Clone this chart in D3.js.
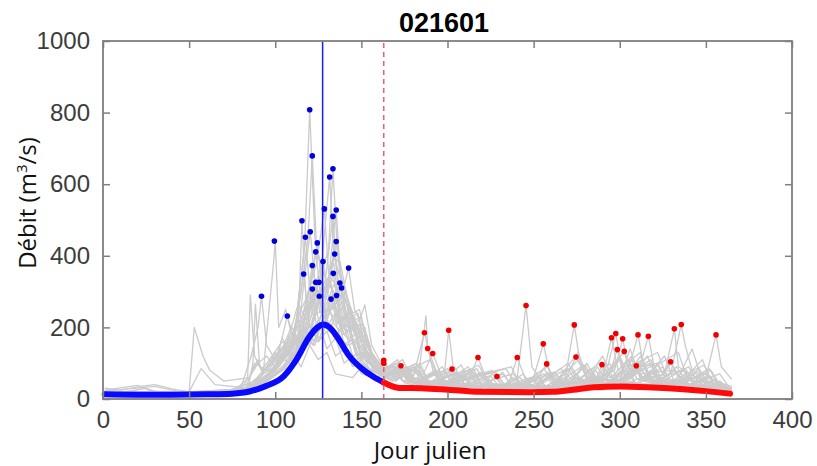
<!DOCTYPE html>
<html><head><meta charset="utf-8">
<script src="https://cdn.jsdelivr.net/npm/d3@7"></script>
<style>body{margin:0;background:#fff}svg{display:block}</style>
</head><body>
<script>
const title = "021601";
const xLabel = "Jour julien";
const xTicks = [0,50,100,150,200,250,300,350,400];
const yTicks = [0,200,400,600,800,1000];
const springEnd = 163;
const peakDay = 127.5;

// yearly hydrographs as flat [day, value, day, value, ...]
const y01=[1,15,30,12,60,14,80,30,86,120,90,200,92,287,95,150,100,110,104,170,108,140,115,90,120,150,125,110,130,130,135,70,145,60,150,90,155,75,160,60,163,108,170,50,178,80,182,40,190,30,205,60,210,30,220,20,235,45,240,25,260,18,275,60,280,30,290,25,305,70,310,35,320,30,335,55,340,28,350,22,365,18];
const y02=[1,20,40,15,75,20,85,60,90,110,93,70,95,180,99,380,100,441,102,200,106,250,110,170,114,260,118,220,122,280,125,160,130,190,135,120,140,140,145,90,150,110,155,80,163,100,170,60,177,90,182,45,200,35,208,70,214,35,240,25,252,55,258,30,280,40,287,90,292,50,310,45,318,80,324,40,340,30,346,60,352,30,365,22];
const y03=[1,30,10,25,22,35,30,40,40,28,50,20,53,200,58,120,62,80,70,50,85,60,90,100,95,120,100,90,107,232,112,150,116,200,120,180,125,220,130,140,135,170,140,100,145,120,150,70,163,55,168,75,173,93,180,45,192,70,198,35,210,30,222,55,228,28,250,20,265,45,270,25,290,28,300,65,306,35,330,32,340,60,346,30,365,25];
const y04=[1,12,50,10,80,15,90,40,100,90,105,130,110,200,113,160,115.5,498,118,260,121,330,125,300,128,220,132,200,136,240,140,150,145,170,150,100,160,70,170,50,175,80,180,60,186.6,185,192,70,200,45,212,80,218,35,230,25,245,50,250,28,270,30,282,75,288,40,300,35,315,90,320,45,340,28,348,55,354,30,365,20];
const y05=[1,10,25,30,35,15,60,12,82,20,88,100,95,80,100,120,105,150,108,120,112,220,116.5,349,120,200,124,240,128,250,131,190,135,180,140,200,145,120,150,130,155,80,165,60,172,85,178,55,183,60,187.5,233,188.5,141,195,60,204,90,210,40,220,35,232,70,238,35,260,25,278,55,284,35,300,40,312,85,318,45,330,35,342,70,348,35,365,25];
const y06=[1,18,40,15,80,18,90,60,95,90,100,130,104,110,108,180,111,150,114,300,117.5,452,121,250,126,310,130,280,134,210,138,190,142,230,148,110,153,130,158,80,170,55,178,85,185,60,191.4,127,197,60,215,85,220,40,230,30,248,60,254,32,270,25,285,70,290,38,310,38,322,95,328,45,350,28,358,50,365,22];
const y07=[1,14,50,12,80,20,92,70,98,110,105,150,110,210,113,260,117,420,120,808,123,450,126,380,128,300,132,320,136,240,140,260,146,150,151,170,156,90,165,60,173,90,178,50,185,40,198,60,200.7,192,204,60,218,95,224,45,240,30,256,70,262,35,280,28,292,80,298,40,320,34,333,90,340,40,365,20];
const y08=[1,22,30,35,45,20,70,18,88,50,93,80,98,100,104,140,110,180,113,150,116,300,120.3,467,124,280,128,300,132,330,136,240,140,200,145,220,150,120,160,80,168,70,175,50,183,80,188,45,195,45,202.6,84,210,40,225,65,230,35,250,22,268,60,273,30,290,30,304,95,309,45,330,30,343,80,348,40,365,20];
const y09=[1,10,55,10,85,18,95,60,101,90,108,130,112,200,115,300,119,450,121.5,679,124,420,127,360,130,330,134,380,137,260,141,280,145,160,150,180,155,100,165,65,172,80,180,45,190,40,205,75,210,40,212,50,217.7,116,223,50,238,70,244,35,260,25,275,70,280,40,300,32,313,110,318,50,340,28,352,65,358,35,365,18];
const y10=[1,25,20,38,28,22,50,20,57,85,65,40,85,30,93,70,100,90,106,150,112,180,115,140,118,260,121.5,373,126,240,130,270,133,290,137,220,140,180,145,210,150,110,155,125,160,70,170,85,175,45,180,40,195,75,200,35,220,30,228.7,63,235,30,250,60,255,28,270,22,283,85,289,40,300,35,320,75,326,38,340,30,365,20];
const y11=[1,12,50,11,85,20,92,50,97,70,103,110,108,140,112,120,115,200,121.5,307,126,200,130,250,134,230,138,170,142,150,147,160,152,90,163,60,172,95,177,50,190,35,212,70,218,35,230,28,236,50,240.5,116,246,45,262,75,268,35,280,30,294,100,300,45,310,40,325,90,330,42,345,28,355,55,365,20];
const y12=[1,16,40,14,80,22,90,50,96,90,103,120,108,100,112,190,118,260,123.5,411,127,260,131,320,134,300,138,230,141,190,146,200,150,120,160,75,168,95,174,50,180,45,195,80,200,40,220,30,232,75,237,38,240,40,245.6,261,249,90,255,50,270,85,275,45,290,30,308,100,314,50,330,30,338,70,344,35,365,22];
const y13=[1,10,60,10,86,25,92,50,98,80,104,120,110,160,114,140,117,220,123.5,326,128,220,132,260,136,250,140,180,144,160,149,170,154,100,165,60,176,90,181,45,200,35,214,80,219,40,240,30,250,60,255.6,154,260,60,270,45,280,95,285,50,290,35,302,80,306,45,320,40,330,100,336,50,350,28,365,20];
const y14=[1,20,40,18,80,20,84,60,85.5,291,88,120,92,80,98,120,104,160,109,140,114,240,120,300,124.4,436,128,280,132,340,135,320,139,240,142,200,147,210,152,120,162,75,170,100,176,55,185,45,197,90,203,45,220,35,226,70,232,38,250,40,257.6,98,263,45,276,110,281,55,300,35,312,120,317,55,335,30,346,85,352,40,365,22];
const y15=[1,15,50,12,85,22,94,60,100,90,106,120,112,170,116,150,120,240,125.4,326,130,230,134,260,138,200,142,210,146,140,151,150,156,90,166,55,180,90,185,45,200,35,210,65,215,35,240,28,256,85,262,40,268,50,273.6,207,277,100,283,70,290,120,296,60,300,50,318,110,323,55,330,40,350,70,356,35,365,25];
const y16=[1,12,55,10,88,30,95,60,102,90,108,130,114,180,117,160,120,220,125.6,287,131,210,135,240,139,180,143,190,147,120,152,130,157,80,168,50,178,70,184,40,210,35,222,65,228,35,250,30,258,75,263,40,268,50,274.6,117,280,70,288,100,293,55,300,55,314,95,319,50,330,40,337,80,343,40,365,25];
const y17=[1,18,40,16,82,25,90,50,96,70,102,110,108,150,113,130,118,250,124,300,127.7,384,131,280,134,320,137,300,141,220,144,200,148,210,153,130,163,80,170,70,182,100,187,50,190,45,206,70,211,35,240,30,252,65,257,35,275,45,282,80,286,50,289.7,96,295,60,307,120,312,60,320,45,332,80,338,40,350,30,365,22];
const y18=[1,14,50,12,84,24,87,100,88.5,265,91,90,96,80,102,120,108,160,112,140,118,280,124,380,128.5,531,131,350,134,400,137,380,141,270,144,230,148,240,152,140,162,85,172,100,178,55,185,50,198,80,203,40,230,30,242,60,247,35,270,35,278,90,283,50,290,60,295.2,171,299,80,305,110,310,55,320,50,338,85,344,40,350,32,365,22];
const y19=[1,20,45,18,85,28,92,55,98,80,104,120,110,170,115,150,120,260,127,380,131.6,620,134,400,137,350,140,320,144,240,147,200,151,210,155,130,163,80,171,110,176,60,190,45,200,85,205,45,230,30,244,70,249,35,270,40,281,100,286,55,292,70,297.7,183,301,90,312,130,317,60,325,50,340,90,346,45,350,35,365,25];
const y20=[1,12,60,11,88,30,96,60,104,90,110,130,116,170,120,150,125,220,132.4,279,136,210,139,230,143,170,147,180,152,110,160,75,168,90,174,50,180,45,193,80,198,40,230,28,238,60,243,32,280,45,286,80,290,50,294,70,298.6,138,303,70,318,100,323,50,330,45,345,75,350,38,365,22];
const y21=[1,16,40,14,84,25,90,50,96,70,103,110,110,160,115,140,120,260,127,350,131,420,133.5,643,136,420,139,350,141,300,145,220,148,190,152,200,156,120,164,80,174,110,179,60,195,45,208,95,213,45,240,30,258,90,263,45,285,50,297,80,301.7,168,305,90,322,130,327,65,330,50,349,95,354,45,360,35,365,30];
const y22=[1,22,50,18,86,30,93,60,100,90,106,130,112,170,117,150,122,260,129,330,133.5,510,136,330,139,300,142,260,146,190,149,170,153,180,157,110,165,70,176,80,181,45,200,40,215,75,220,40,250,30,266,85,271,45,290,50,296,90,302.6,133,307,60,316,120,321,60,335,40,353,80,358,40,365,25];
const y23=[1,10,60,10,90,30,97,55,104,80,110,120,118,170,122,150,127,240,133.7,351,137,240,140,260,144,190,148,200,152,120,162,75,170,60,184,90,189,45,200,40,220,70,225,35,250,28,262,65,267,35,290,45,300,110,303,60,305,60,309.6,93,314,55,326,120,331,55,340,38,358,70,365,22];
const y24=[1,18,45,15,85,24,93,55,100,80,107,120,113,170,118,150,123,250,130,300,134.5,405,138,280,141,300,145,210,149,220,153,130,163,80,173,95,178,50,200,45,217,85,222,42,250,32,270,100,275,55,290,55,305,80,310.6,179,314,90,322,100,327,55,340,50,352,85,357,42,365,30];
const y25=[1,14,50,12,86,26,93,55,100,80,107,120,114,170,119,160,124,260,131,340,135.4,528,138,330,142,280,145,240,149,250,153,150,162,90,170,75,180,95,186,50,200,50,212,90,217,45,250,35,262,75,268,45,290,60,300,120,305,65,311,80,316.6,175,320,90,334,130,339,60,345,50,365,30];
const y26=[1,20,40,18,85,28,93,60,100,85,107,130,114,180,119,160,125,260,131,330,135.4,440,139,290,143,250,146,220,150,230,154,140,163,85,172,90,177,50,200,45,226,80,231,40,260,32,272,90,277,50,300,55,307,110,312,60,324,65,329.5,104,334,60,342,140,347,65,355,40,365,30];
const y27=[1,12,60,11,90,32,98,60,106,90,112,130,118,170,123,150,128,230,135.6,289,139,220,142,240,146,180,150,190,154,120,163,75,178,70,184,100,189,50,200,40,234,85,239,42,260,30,276,130,281,60,300,50,308,95,313,50,326,70,331.7,196,334,90,340,70,350,50,365,30];
const y28=[1,16,45,14,88,28,96,55,104,85,111,130,118,170,123,160,129,240,137.5,324,141,230,144,250,148,170,152,175,156,110,164,70,170,65,190,110,195,55,200,40,228,75,233,40,260,30,279,95,284,50,300,55,306,140,311,70,330,80,335.7,208,338,150,342,80,348,110,352,60,355,50,365,35];
const y29=[1,14,50,12,88,26,97,60,106,90,113,130,120,170,125,160,130,230,138.5,310,142,220,146,230,150,160,154,165,158,100,166,65,182,85,187,45,210,38,219,75,224,40,260,28,268,80,273,45,300,45,311,100,316,55,340,40,350,60,355.9,179,359,90,365,55];
const y30=[1,18,40,16,86,30,97,60,108,90,115,130,122,180,127,170,132,250,138,280,142.6,366,146,250,149,220,152,263,156,150,162,95,175,80,180,45,200,45,237,90,242,45,260,30,280,65,285,40,300,50,320,95,325,50,335,45,365,30];
const years=[y01,y02,y03,y04,y05,y06,y07,y08,y09,y10,y11,y12,y13,y14,y15,y16,y17,y18,y19,y20,y21,y22,y23,y24,y25,y26,y27,y28,y29,y30];

// mean curves [day, value]
const meanSpring=[[1,13],[20,12],[40,12],[60,13],[75,15],[85,21],[95,37],[105,64],[112,108],[120,175],[124,198],[128,208],[132,198],[136,173],[143,120],[151,82],[157,62],[163,46]];
const meanAutumn=[[163,46],[172,31],[185,30],[200,26],[219,20],[248,19],[261,20],[273,26],[285,33],[300,35],[316,33],[335,28],[350,22],[364,15]];

// annual peaks
const springPeaks=[[92,287],[99.5,441],[107,232],[115.5,498],[116.5,349],[117.5,452],[120,808],[120.3,467],[121.5,679],[121.5,373],[121.5,307],[123.5,411],[123.5,326],[124.4,436],[125.4,326],[125.6,287],[127.7,384],[128.5,531],[131.6,620],[132.4,279],[133.5,643],[133.5,510],[133.7,351],[134.5,405],[135.4,528],[135.4,440],[135.6,289],[137.5,324],[138.5,310],[142.6,366]];
const autumnPeaks=[[163,108],[163,100],[173,93],[186.6,185],[188.5,141],[191.4,127],[200.7,192],[202.6,84],[217.7,116],[228.7,63],[240.5,116],[245.6,261],[255.6,154],[257.6,98],[273.6,207],[274.6,117],[289.7,96],[295.2,171],[297.7,183],[298.6,138],[301.7,168],[302.6,133],[309.6,93],[310.6,179],[316.6,175],[329.5,104],[331.7,196],[335.7,208],[355.9,179]];

const W=817,H=466;
const m={l:103,r:792,t:41,b:399};
const svg=d3.select("body").append("svg").attr("width",W).attr("height",H);
const x=d3.scaleLinear().domain([0,400]).range([m.l,m.r]);
const y=d3.scaleLinear().domain([0,1000]).range([m.b,m.t]);
const line=d3.line().x(d=>x(d[0])).y(d=>y(d[1]));
const smooth=d3.line().x(d=>x(d[0])).y(d=>y(d[1])).curve(d3.curveMonotoneX);
const pairs=a=>d3.range(0,a.length,2).map(i=>[a[i],a[i+1]]);

const g=svg.append("g");
g.selectAll("path.yr").data(years).join("path").attr("class","yr")
 .attr("d",d=>line(pairs(d))).attr("fill","none").attr("stroke","#cbcbcb").attr("stroke-width",1.3).attr("stroke-linejoin","round");

g.append("path").attr("d",smooth(meanSpring)).attr("fill","none").attr("stroke","#0a0aff").attr("stroke-width",6).attr("stroke-linecap","round");
g.append("path").attr("d",smooth(meanAutumn)).attr("fill","none").attr("stroke","#ff0a0a").attr("stroke-width",6).attr("stroke-linecap","round");

g.append("line").attr("x1",x(peakDay)).attr("x2",x(peakDay)).attr("y1",y(0)).attr("y2",y(1000)).attr("stroke","#1a1aff").attr("stroke-width",1.5);
g.append("line").attr("x1",x(springEnd)).attr("x2",x(springEnd)).attr("y1",y(0)).attr("y2",y(1000)).attr("stroke","#f0506a").attr("stroke-width",1.4).attr("stroke-dasharray","5,4");

g.selectAll("circle.sp").data(springPeaks).join("circle").attr("class","sp").attr("cx",d=>x(d[0])).attr("cy",d=>y(d[1])).attr("r",2.8).attr("fill","#0000dd");
g.selectAll("circle.au").data(autumnPeaks).join("circle").attr("class","au").attr("cx",d=>x(d[0])).attr("cy",d=>y(d[1])).attr("r",2.8).attr("fill","#ee0000");

// axes box
const ax="#7f7f7f";
svg.append("rect").attr("x",m.l).attr("y",m.t).attr("width",m.r-m.l).attr("height",m.b-m.t).attr("fill","none").attr("stroke",ax).attr("stroke-width",1.8);
const fmt=d3.format("d");
const gx=svg.append("g").attr("transform",`translate(0,${m.b})`).call(d3.axisBottom(x).tickValues(xTicks).tickSize(-7).tickPadding(12).tickFormat(fmt));
const gy=svg.append("g").attr("transform",`translate(${m.l},0)`).call(d3.axisLeft(y).tickValues(yTicks).tickSize(-7).tickPadding(13).tickFormat(fmt));
const gxt=svg.append("g").attr("transform",`translate(0,${m.t})`).call(d3.axisTop(x).tickValues(xTicks).tickSize(-7).tickFormat(""));
const gyr=svg.append("g").attr("transform",`translate(${m.r},0)`).call(d3.axisRight(y).tickValues(yTicks).tickSize(-7).tickFormat(""));
[gx,gy,gxt,gyr].forEach(a=>{a.select(".domain").remove();a.selectAll(".tick line").attr("stroke",ax).attr("stroke-width",1.5);
 a.selectAll("text").attr("font-family","Arial, 'Liberation Sans', sans-serif").attr("font-size",24).attr("fill","#3c3c3c");});

svg.append("text").attr("x",444).attr("y",32).attr("text-anchor","middle").attr("font-family","Arial, 'Liberation Sans', sans-serif").attr("font-weight","bold").attr("font-size",27).attr("fill","#000").text(title);
svg.append("text").attr("x",430).attr("y",459).attr("text-anchor","middle").attr("font-family","'Open Sans', sans-serif").attr("font-size",24).attr("fill","#111").text(xLabel);
const yl=svg.append("text").attr("transform","translate(36,203) rotate(-90)").attr("text-anchor","middle").attr("font-family","'Open Sans', sans-serif").attr("font-size",24).attr("fill","#111");
yl.append("tspan").text("Débit (m");
yl.append("tspan").attr("font-size",15).attr("dy",-9).text("3");
yl.append("tspan").attr("dy",9).text("/s)");
</script>
</body></html>
